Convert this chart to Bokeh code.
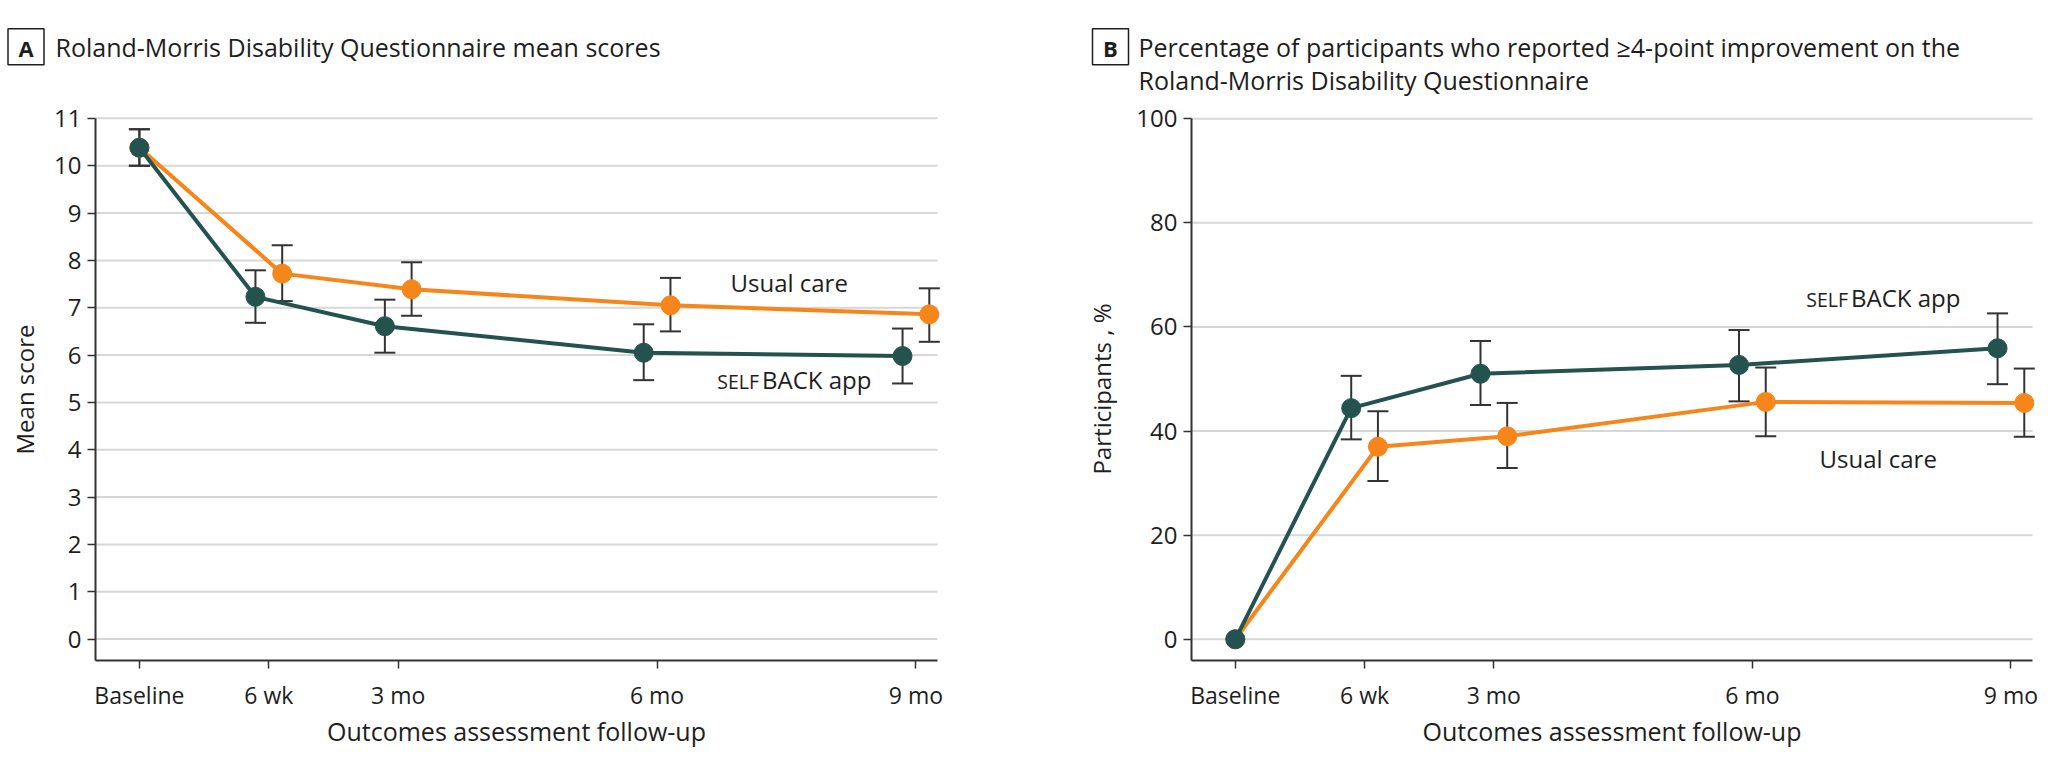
import numpy as np
from math import pi
from bokeh.plotting import figure
from bokeh.layouts import row
from bokeh.models import FixedTicker, Label, Range1d
from bokeh.embed import file_html
from bokeh.resources import INLINE

# ---------------- data ----------------
timepoints = ["Baseline", "6 wk", "3 mo", "6 mo", "9 mo"]
months = [0, 1.5, 3, 6, 9]

# Panel A: Roland-Morris Disability Questionnaire mean scores (95% CI)
rmdq_selfback = [10.38, 7.23, 6.61, 6.05, 5.98]
rmdq_selfback_lo = [10.00, 6.68, 6.05, 5.47, 5.40]
rmdq_selfback_hi = [10.77, 7.79, 7.17, 6.65, 6.56]
rmdq_usual = [10.38, 7.72, 7.39, 7.05, 6.86]
rmdq_usual_lo = [10.00, 7.14, 6.83, 6.50, 6.28]
rmdq_usual_hi = [10.77, 8.32, 7.96, 7.63, 7.41]
rmdq_ticks = list(range(0, 12))

# Panel B: % participants with >=4-point improvement (95% CI)
nan = float("nan")
pct_selfback = [0.0, 44.4, 51.0, 52.7, 55.9]
pct_selfback_lo = [nan, 38.4, 45.0, 45.7, 49.0]
pct_selfback_hi = [nan, 50.6, 57.3, 59.4, 62.6]
pct_usual = [0.0, 37.0, 39.0, 45.6, 45.4]
pct_usual_lo = [nan, 30.4, 32.9, 39.0, 38.9]
pct_usual_hi = [nan, 43.8, 45.4, 52.2, 52.0]
pct_ticks = [0, 20, 40, 60, 80, 100]

title_a = ["Roland-Morris Disability Questionnaire mean scores"]
title_b = ["Percentage of participants who reported \u22654-point improvement on the",
           "Roland-Morris Disability Questionnaire"]
xlabel = "Outcomes assessment follow-up"

# ---------------- style ----------------
TEAL = "#24524f"
ORANGE = "#f6851a"
EBAR = "#333333"
AX = "#333333"
TXT = "#1e1e1e"
FONT = "Open Sans"
DODGE = 0.155
H = 766


def dodged(offset):
    return [t + (offset if t > 0 else 0) for t in months]


def make_panel(cfg):
    # page-pixel -> data mapping for this panel
    left, width = cfg["page_left"], cfg["width"]
    x0px, ppx = cfg["x0px"], cfg["ppx"]
    y0px, ppy = cfg["y0px"], cfg["ppy"]

    def X(px):
        return (px - x0px) / ppx

    def Y(py):
        return (y0px - py) / ppy

    p = figure(width=width, height=H,
               x_range=Range1d(X(left), X(left + width)),
               y_range=Range1d(Y(H), Y(0)),
               min_border=0, title_location=None,
               output_backend="svg", toolbar_location=None)
    p.outline_line_color = None
    p.background_fill_color = "white"
    p.border_fill_color = "white"
    p.xgrid.visible = False
    p.ygrid.visible = False

    ax_l, ax_r, ax_b = cfg["axis_left"], cfg["axis_right"], cfg["axis_bottom"]
    yticks = cfg["yticks"]
    # horizontal grid lines at the y ticks
    p.segment([X(ax_l)] * len(yticks), yticks, [X(ax_r)] * len(yticks), yticks,
              line_color="#d7d7d7", line_width=2, level="underlay")

    for ax in (p.xaxis, p.yaxis):
        ax.axis_line_color = AX
        ax.axis_line_width = 2
        ax.major_tick_line_color = AX
        ax.major_tick_line_width = 1.5
        ax.major_tick_out = 8
        ax.major_tick_in = 0
        ax.minor_tick_line_color = None
        ax.major_label_text_font = FONT
        ax.major_label_text_color = TXT
    p.xaxis.fixed_location = Y(ax_b)
    p.xaxis.bounds = (X(ax_l), X(ax_r))
    p.xaxis.ticker = FixedTicker(ticks=months)
    p.xaxis.major_label_overrides = {m: t for m, t in zip(months, timepoints)}
    p.xaxis.major_label_text_font_size = "23px"
    p.xaxis.major_label_standoff = 10
    p.yaxis.fixed_location = X(ax_l)
    p.yaxis.bounds = (Y(ax_b), yticks[-1])
    p.yaxis.ticker = FixedTicker(ticks=yticks)
    p.yaxis.major_label_text_font_size = "24px"
    p.yaxis.major_label_standoff = 6

    # error bars, then lines and dots (orange first, teal on top)
    for (vals, lo, hi, color, off) in cfg["series"]:
        xs = dodged(off)
        p.segment(xs, lo, xs, hi, line_color=EBAR, line_width=2)
        p.scatter(xs, lo, marker="dash", size=21, line_color=EBAR, line_width=2)
        p.scatter(xs, hi, marker="dash", size=21, line_color=EBAR, line_width=2)
    for (vals, lo, hi, color, off) in cfg["series"]:
        xs = dodged(off)
        p.line(xs, vals, line_color=color, line_width=4)
        p.scatter(xs, vals, size=19, fill_color=color, line_color=color)

    def text(px, py, s, size, align="left", angle=0, bold=False):
        p.add_layout(Label(x=X(px), y=Y(py), text=s, text_align=align,
                           text_baseline="middle", angle=angle, text_font=FONT,
                           text_font_size=size, text_color=TXT,
                           text_font_style="bold" if bold else "normal"))

    # panel letter in a box
    bx, by = cfg["box"]
    p.rect([X(bx)], [Y(by)], width=36, height=36, width_units="screen",
           height_units="screen", fill_color=None, line_color=TXT, line_width=1.5)
    text(bx, by + 1, cfg["letter"], "22px", align="center", bold=True)
    # panel title (positions are cap-height centres)
    tx, tys = cfg["title_pos"]
    for t, ty in zip(cfg["title"], tys):
        text(tx, ty, t, "25px")
    # axis titles
    lx, ly = cfg["ylabel_pos"]
    text(lx, ly, cfg["ylabel"], "24px", align="center", angle=pi / 2)
    text((ax_l + ax_r) / 2, 730, xlabel, "25px", align="center")
    # series labels
    (ux, uy), (sx, sy) = cfg["labels"]
    text(ux, uy, "Usual care", "24px")
    p.add_layout(Label(x=X(sx), y=Y(sy + 1.6), x_offset=-1.5, text="SELF",
                       text_align="right", text_baseline="middle", text_font=FONT,
                       text_font_size="19.5px", text_color=TXT))
    p.add_layout(Label(x=X(sx), y=Y(sy), x_offset=1.5, text="BACK app",
                       text_align="left", text_baseline="middle", text_font=FONT,
                       text_font_size="24px", text_color=TXT))
    return p


cfg_a = dict(page_left=0, width=1080, x0px=138.9, ppx=86.28, y0px=638.6, ppy=47.34,
             axis_left=95, axis_right=937, axis_bottom=660, yticks=rmdq_ticks,
             series=[(rmdq_usual, rmdq_usual_lo, rmdq_usual_hi, ORANGE, DODGE),
                     (rmdq_selfback, rmdq_selfback_lo, rmdq_selfback_hi, TEAL, -DODGE)],
             letter="A", box=(25.5, 46.3), title=title_a, title_pos=(55, [46]),
             ylabel="Mean score", ylabel_pos=(23.5, 389),
             labels=((730, 282), (760, 379)))

cfg_b = dict(page_left=1080, width=966, x0px=1234.8, ppx=86.18, y0px=638.8, ppy=5.2065,
             axis_left=1191, axis_right=2032, axis_bottom=660, yticks=pct_ticks,
             series=[(pct_usual, pct_usual_lo, pct_usual_hi, ORANGE, DODGE),
                     (pct_selfback, pct_selfback_lo, pct_selfback_hi, TEAL, -DODGE)],
             letter="B", box=(1110, 46.3), title=title_b, title_pos=(1138, [46, 79]),
             ylabel="Participants , %", ylabel_pos=(1101, 388.5),
             labels=((1819, 458), (1849, 297)))

layout = row(make_panel(cfg_a), make_panel(cfg_b))
open("out.html", "w").write(file_html(layout, INLINE))
